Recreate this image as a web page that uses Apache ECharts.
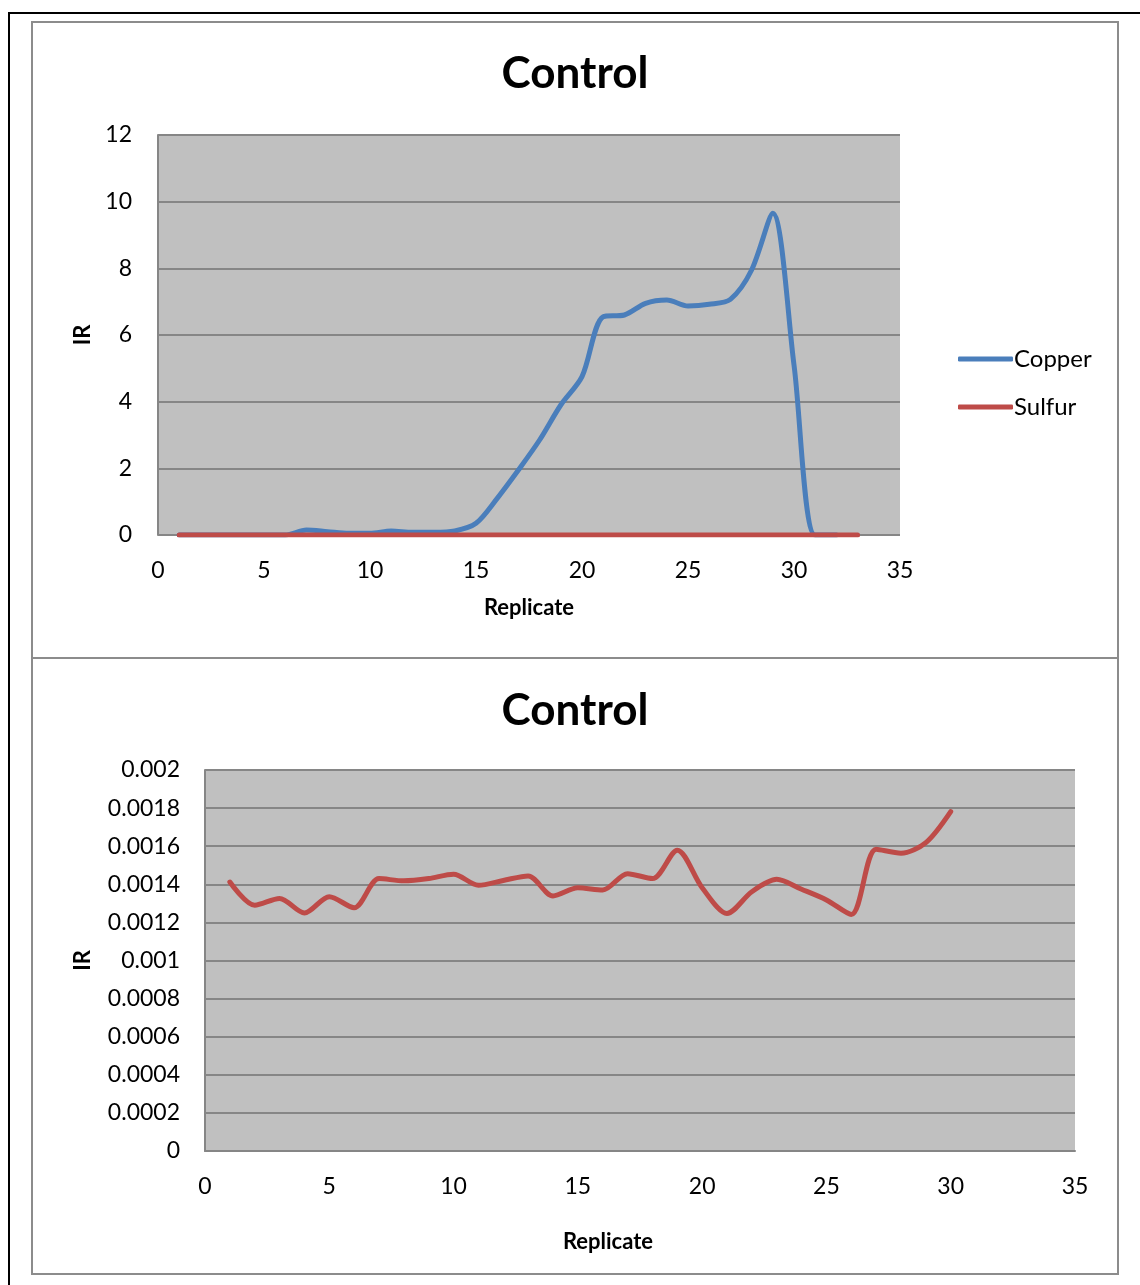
<!DOCTYPE html>
<html>
<head>
<meta charset="utf-8">
<script src="https://cdn.jsdelivr.net/npm/echarts@6/dist/echarts.min.js"></script>
<style>
html,body{margin:0;padding:0;background:#fff;}
#chart{width:1140px;height:1285px;}
</style>
</head>
<body>
<div id="chart"></div>
<script>
// ---- data ----
var copperReplicate = [1,2,3,4,5,6,7,8,9,10,11,12,13,14,15,16,17,18,19,20,21,22,23,24,25,26,27,28,29,30,31,32];
var copperIR = [0,0,0,0,0,0,0.15,0.1,0.05,0.05,0.12,0.08,0.08,0.12,0.35,1.1,1.95,2.85,3.9,4.75,6.55,6.6,6.95,7.05,6.87,6.92,7.07,7.95,9.65,5.1,0,0];

var sulfurReplicate = [1,2,3,4,5,6,7,8,9,10,11,12,13,14,15,16,17,18,19,20,21,22,23,24,25,26,27,28,29,30];
var sulfurIR = [0.001412,0.00129,0.001326,0.00125,0.001335,0.001277,0.00143,0.001418,0.00143,0.001453,
                0.001395,0.00142,0.001444,0.001339,0.001382,0.00137,0.001456,0.00143,0.001579,0.001382,
                0.001247,0.001361,0.001426,0.001374,0.001318,0.001242,0.001584,0.001563,0.001619,0.001782];

// top chart sulfur line (drawn at ~0 on the 0-12 scale) spans replicates 1..33
var sulfurTopReplicate = [1,2,3,4,5,6,7,8,9,10,11,12,13,14,15,16,17,18,19,20,21,22,23,24,25,26,27,28,29,30,31,32,33];
var sulfurTopIR = sulfurIR.concat([0,0,0]);

var xTicks = {min:0, max:35, interval:5};
var yTopTicks = {min:0, max:12, interval:2};
var yBottomTicks = {min:0, max:0.002, interval:0.0002};

var seriesNames = ['Copper','Sulfur'];
var chartTitle = 'Control';
var xName = 'Replicate';
var yName = 'IR';

function pairs(xs, ys){ return xs.map(function(x,i){ return [x, ys[i]]; }); }

var BLUE = '#4A7EBB', RED = '#BE4B48';
var FONT = 'Lato';
var GRID_LINE = {lineStyle:{color:'#868686', width:2}};

var chart = echarts.init(document.getElementById('chart'), null, {renderer:'canvas'});
chart.setOption({
  animation:false,
  textStyle:{fontFamily:FONT, color:'#000'},
  graphic:[
    {type:'line', shape:{x1:8,y1:13,x2:1140,y2:13}, style:{stroke:'#000', lineWidth:2}},
    {type:'line', shape:{x1:9,y1:12,x2:9,y2:1285}, style:{stroke:'#000', lineWidth:2}},
    {type:'rect', shape:{x:32,y:22,width:1086,height:636}, style:{fill:'none', stroke:'#8c8c8c', lineWidth:2}},
    {type:'rect', shape:{x:32,y:658,width:1086,height:616}, style:{fill:'none', stroke:'#8c8c8c', lineWidth:2}}
  ],
  title:[
    {text:chartTitle, left:570, top:47, textAlign:'center',
     textStyle:{fontFamily:FONT, fontSize:44, fontWeight:'bold', color:'#000'}},
    {text:chartTitle, left:570, top:684, textAlign:'center',
     textStyle:{fontFamily:FONT, fontSize:44, fontWeight:'bold', color:'#000'}}
  ],
  legend:{
    data:seriesNames, orient:'vertical', left:953, top:342,
    icon:'roundRect', itemWidth:55, itemHeight:5, itemGap:24,
    textStyle:{fontFamily:FONT, fontSize:24, color:'#000', padding:[0,0,0,-4]}
  },
  grid:[
    {left:158, top:135, width:742, height:400, show:true, backgroundColor:'#C0C0C0', borderWidth:0},
    {left:205, top:770, width:870, height:381, show:true, backgroundColor:'#C0C0C0', borderWidth:0}
  ],
  xAxis:[
    {gridIndex:0, type:'value', min:xTicks.min, max:xTicks.max, interval:xTicks.interval,
     name:xName, nameLocation:'middle', nameGap:62,
     nameTextStyle:{fontFamily:FONT, fontSize:22, fontWeight:'bold', color:'#000'},
     axisLine:{show:false}, axisTick:{show:false}, splitLine:{show:false},
     axisLabel:{fontFamily:FONT, fontSize:23, color:'#000', margin:24}},
    {gridIndex:1, type:'value', min:xTicks.min, max:xTicks.max, interval:xTicks.interval,
     name:xName, nameLocation:'middle', nameGap:80,
     nameTextStyle:{fontFamily:FONT, fontSize:22, fontWeight:'bold', color:'#000', padding:[0,64,0,0]},
     axisLine:{show:true, onZero:false, lineStyle:{color:'#868686', width:2}}, axisTick:{show:false}, splitLine:{show:false},
     axisLabel:{fontFamily:FONT, fontSize:23, color:'#000', margin:24}}
  ],
  yAxis:[
    {gridIndex:0, type:'value', min:yTopTicks.min, max:yTopTicks.max, interval:yTopTicks.interval,
     name:yName, nameLocation:'middle', nameGap:64, nameRotate:90,
     nameTextStyle:{fontFamily:FONT, fontSize:22, fontWeight:'bold', color:'#000'},
     axisLine:{show:true, lineStyle:{color:'#868686', width:2}}, axisTick:{show:false},
     splitLine:GRID_LINE,
     axisLabel:{fontFamily:FONT, fontSize:23, color:'#000', margin:26}},
    {gridIndex:1, type:'value', min:yBottomTicks.min, max:yBottomTicks.max, interval:yBottomTicks.interval,
     name:yName, nameLocation:'middle', nameGap:111, nameRotate:90,
     nameTextStyle:{fontFamily:FONT, fontSize:22, fontWeight:'bold', color:'#000'},
     axisLine:{show:true, lineStyle:{color:'#868686', width:2}}, axisTick:{show:false},
     splitLine:GRID_LINE,
     axisLabel:{fontFamily:FONT, fontSize:23, color:'#000', margin:25,
       formatter:function(v){ return String(parseFloat(v.toFixed(6))); }}}
  ],
  series:[
    {name:seriesNames[0], type:'line', xAxisIndex:0, yAxisIndex:0, data:pairs(copperReplicate, copperIR),
     smooth:0.3, showSymbol:false, lineStyle:{color:BLUE, width:5, cap:'round'}, itemStyle:{color:BLUE}, z:2},
    {name:seriesNames[1], type:'line', xAxisIndex:0, yAxisIndex:0, data:pairs(sulfurTopReplicate, sulfurTopIR),
     smooth:0.3, showSymbol:false, lineStyle:{color:RED, width:5, cap:'round'}, itemStyle:{color:RED}, z:3},
    {name:seriesNames[1], type:'line', xAxisIndex:1, yAxisIndex:1, data:pairs(sulfurReplicate, sulfurIR),
     smooth:0.3, showSymbol:false, lineStyle:{color:RED, width:5, cap:'round'}, itemStyle:{color:RED}, z:3}
  ]
});
</script>
</body>
</html>
